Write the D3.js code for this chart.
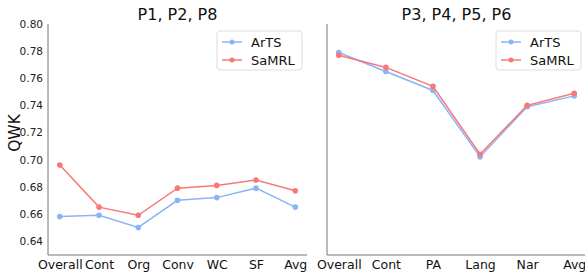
<!DOCTYPE html>
<html><head><meta charset="utf-8">
<script src="https://cdn.jsdelivr.net/npm/d3@7"></script>
<style>body{margin:0;background:#fff}svg{font-family:"DejaVu Sans",sans-serif}</style>
</head><body><svg id="c" width="585" height="273"></svg>
<script>
const seriesNames = ["ArTS", "SaMRL"];
const colors = ["#8ab4f8", "#f87878"];
const catsLeft = ["Overall", "Cont", "Org", "Conv", "WC", "SF", "Avg"];
const artsLeft = [0.658, 0.659, 0.650, 0.670, 0.672, 0.679, 0.665];
const samrlLeft = [0.696, 0.665, 0.659, 0.679, 0.681, 0.685, 0.677];
const catsRight = ["Overall", "Cont", "PA", "Lang", "Nar", "Avg"];
const artsRight = [0.779, 0.765, 0.751, 0.702, 0.739, 0.747];
const samrlRight = [0.777, 0.768, 0.754, 0.704, 0.740, 0.749];
const yTicks = [0.64, 0.66, 0.68, 0.70, 0.72, 0.74, 0.76, 0.78, 0.80];
const titles = ["P1, P2, P8", "P3, P4, P5, P6"];

const svg = d3.select("#c");
const plotTop = 24, plotBottom = 255;
const y = d3.scaleLinear().domain([0.6297, 0.80]).range([plotBottom, plotTop]);

function panel(x0, x1, cats, data, title, showY) {
  const w = x1 - x0;
  const m = 0.05 * w / 1.1;
  const x = d3.scalePoint().domain(cats).range([x0 + m, x1 - m]);
  const g = svg.append("g");
  g.append("line").attr("x1", x0).attr("x2", x0).attr("y1", plotTop).attr("y2", plotBottom).attr("stroke", "#777").attr("stroke-width", 1);
  g.append("line").attr("x1", x0).attr("x2", x1).attr("y1", plotBottom).attr("y2", plotBottom).attr("stroke", "#777").attr("stroke-width", 1);
  const xa = g.append("g").attr("transform", `translate(0,${plotBottom})`).call(d3.axisBottom(x).tickSize(0).tickPadding(5));
  xa.select(".domain").remove();
  xa.selectAll("text").attr("font-size", 12.5).attr("fill", "#111").attr("font-family", "DejaVu Sans");
  if (showY) {
    const ya = g.append("g").attr("transform", `translate(${x0},0)`).call(d3.axisLeft(y).tickValues(yTicks).tickSize(0).tickPadding(5).tickFormat(d3.format(".2f")));
    ya.select(".domain").remove();
    ya.selectAll("text").attr("font-size", 10.5).attr("fill", "#222").attr("font-family", "DejaVu Sans");
  }
  g.append("text").attr("x", (x0 + x1) / 2).attr("y", 20).attr("text-anchor", "middle").attr("font-size", 16).attr("fill", "#111").text(title);
  const line = d3.line().x((d, i) => x(cats[i])).y(d => y(d));
  data.forEach((vals, si) => {
    g.append("path").datum(vals).attr("d", line).attr("fill", "none").attr("stroke", colors[si]).attr("stroke-width", 1.5);
    g.selectAll(null).data(vals).enter().append("circle").attr("cx", (d, i) => x(cats[i])).attr("cy", d => y(d)).attr("r", 2.8).attr("fill", colors[si]);
  });
  const lx = x1 - 90, ly = 31;
  g.append("rect").attr("x", lx).attr("y", ly).attr("width", 85).attr("height", 39).attr("rx", 3).attr("fill", "#fff").attr("fill-opacity", 0.8).attr("stroke", "#ddd");
  seriesNames.forEach((s, si) => {
    const yy = ly + 11 + si * 18;
    g.append("line").attr("x1", lx + 5).attr("x2", lx + 25).attr("y1", yy).attr("y2", yy).attr("stroke", colors[si]).attr("stroke-width", 1.5);
    g.append("circle").attr("cx", lx + 15).attr("cy", yy).attr("r", 2.5).attr("fill", colors[si]);
    g.append("text").attr("x", lx + 34).attr("y", yy + 4.5).attr("font-size", 13).attr("fill", "#111").text(s);
  });
}
panel(48, 307, catsLeft, [artsLeft, samrlLeft], titles[0], true);
panel(327, 586, catsRight, [artsRight, samrlRight], titles[1], false);
svg.append("text").attr("transform", "translate(20,133) rotate(-90)").attr("text-anchor", "middle").attr("font-size", 15.5).attr("fill", "#111").text("QWK");
</script></body></html>
